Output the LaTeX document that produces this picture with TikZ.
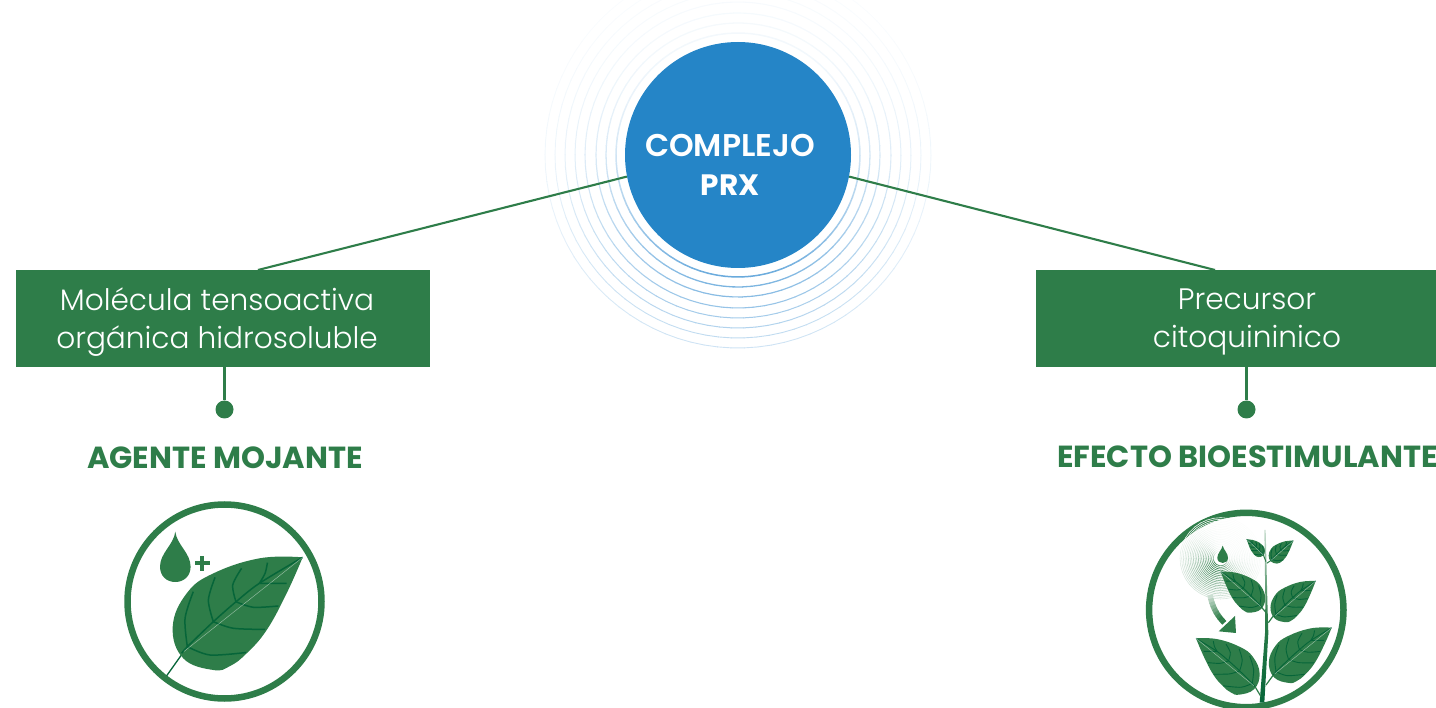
\documentclass[tikz,border=0pt]{standalone}
\usepackage{fontspec}
\setmainfont{Poppins}
\newfontfamily\lightf{Poppins Light}
\newfontfamily\semif{Poppins SemiBold}
\newfontfamily\boldf{Poppins Bold}
\usetikzlibrary{calc}
\definecolor{gr}{HTML}{2E7D49}
\definecolor{vein}{HTML}{066539}
\definecolor{bl}{HTML}{2585C7}
\definecolor{ringc}{HTML}{4F9BD6}
\tikzset{
 boxn/.style={fill=gr,minimum width=#1,minimum height=97pt,inner sep=0pt},
 boxt/.style={text=white,inner sep=0pt,align=center,font=\lightf\fontsize{29.6}{38}\selectfont},
 dotn/.style={circle,fill=gr,minimum size=18pt,inner sep=0pt},
 headn/.style={text=gr,inner sep=0pt,font=\boldf\fontsize{30.5}{34}\selectfont},
 link/.style={draw=gr,line width=2.1pt},
 ringicon/.style={draw=gr,line width=6.5pt},
 leaffill/.style={fill=gr},
 veinl/.style={draw=vein,line width=#1},
 midl/.style={draw=white,opacity=.5,line width=.45pt},
}
\newcommand\leafdraw[6]{%
 \pgfmathsetmacro\ldx{#3-#1}\pgfmathsetmacro\ldy{#2-#4}%
 \pgfmathsetmacro\lvx{#5*(#2-#4)}\pgfmathsetmacro\lvy{-#5*(#3-#1)}%
 \begin{scope}[shift={(#1,#2)},x={(\ldx pt,\ldy pt)},y={(\lvx pt,\lvy pt)}]
 \fill[leaffill] plot[smooth,tension=.7] coordinates {(1,0) (.78,-.167) (.4825,-.278) (.267,-.284) (.0617,-.171) (-.012,.032) (.0935,.212) (.194,.259) (.33,.2615) (.525,.224) (.774,.118) (1,0)} -- cycle;
 \draw[veinl=#6] plot[smooth] coordinates {(1,0) (.676,-.0425) (.483,-.043) (.288,-.033) (.0556,-.011) (0,0)};
 \draw[veinl=#6] plot[smooth] coordinates {(.0556,-.011) (.158,-.164) (.307,-.266)};
 \draw[veinl=#6] plot[smooth] coordinates {(.0556,-.011) (.137,.1225) (.33,.255)};
 \draw[veinl=#6] plot[smooth] coordinates {(.288,-.033) (.35,-.163) (.475,-.251)};
 \draw[veinl=#6] plot[smooth] coordinates {(.288,-.033) (.363,.081) (.52,.215)};
 \draw[veinl=#6] plot[smooth] coordinates {(.483,-.043) (.534,-.141) (.646,-.19)};
 \draw[veinl=#6] plot[smooth] coordinates {(.483,-.043) (.549,.055) (.681,.149)};
 \draw[veinl=#6] plot[smooth] coordinates {(.676,-.0425) (.745,-.07) (.80,-.115)};
 \draw[veinl=#6] (.676,-.0425) -- (.814,.0675);
 \draw[midl] (.02,.0) -- (1,0);
 \end{scope}}
\newcommand\plantleaf[5]{%
 \pgfmathsetmacro\pa{1130+#1/3}\pgfmathsetmacro\pb{500+#2/3}%
 \pgfmathsetmacro\pc{1130+#3/3}\pgfmathsetmacro\pd{500+#4/3}%
 \leafdraw{\pa}{\pb}{\pc}{\pd}{#5}{.9pt}}
\begin{document}
\begin{tikzpicture}[x=1pt,y=-1pt]
\useasboundingbox (0,0) rectangle (1436,708);
% rings
\foreach \rr/\bb/\ww in {122/85/1.5,132/75/1.3,142/68/1.2,153/60/1.1,163/52/1,173/44/1,183/36/.9,193/28/.9}{
 \foreach \ang in {0,4,...,356}{
  \pgfmathsetmacro\pp{\bb*(0.08+0.92*((1+sin(\ang+2))/2)^2)}
  \pgfmathsetmacro\ae{\ang+4.2}
  \draw[ringc!\pp!white,line width=\ww pt] ({738+\rr*cos(\ang)},{155+\rr*sin(\ang)}) -- ({738+\rr*cos(\ae)},{155+\rr*sin(\ae)});
 }}
\node[circle,fill=bl,minimum size=226pt,inner sep=0pt] (prx) at (738,155) {};
\node[text=white,inner sep=0pt,font=\semif\fontsize{31.4}{34}\selectfont] (t1) at (730,145) {COMPLEJO};
\node[text=white,inner sep=0pt,font=\boldf\fontsize{29.5}{34}\selectfont] (t2) at (730,185) {PRX};
% boxes
\node[boxn=414pt] (lb) at (223,318.5) {};
\node[boxn=422pt] (rb) at (1247,318.5) {};
\node[boxt] (lt) at (217,322) {Molécula tensoactiva\\orgánica hidrosoluble};
\node[boxt] (rt) at (1247,322) {Precursor\\citoquininico};
\coordinate (la) at (258,270);
\coordinate (ra) at (1215,270);
\draw[link] (prx.191) -- (la);
\draw[link] (prx.-11.5) -- (ra);
\node[dotn] (ld) at (224.5,409.5) {};
\node[dotn] (rd) at (1246.5,409.5) {};
\coordinate (ls) at (224.5,367);
\coordinate (rs) at (1246.5,367);
\draw[link] (ls) -- (ld);
\draw[link] (rs) -- (rd);
\node[headn] (lh) at (225,457.5) {AGENTE MOJANTE};
\node[headn] (rh) at (1247.5,456.5) {EFECTO BIOESTIMULANTE};
% left icon
\draw[ringicon] (224.5,601.5) circle[radius=97pt];
\fill[gr] (175.3,531.7) .. controls (177,545) and (190.6,553) .. (190.6,566.7) .. controls (190.6,576) and (184,582) .. (175.3,582) .. controls (166.6,582) and (160,576) .. (160,566.7) .. controls (160,553) and (173.6,545) .. (175.3,531.7) -- cycle;
\fill[gr] (194.5,561) rectangle (209.5,565);
\fill[gr] (200,555.5) rectangle (204,570.5);
\draw[vein,line width=1.3pt] (187.3,646.7) -- (166.7,675.7);
\leafdraw{181.67}{653.33}{302.67}{557.33}{1}{1.5pt}
% right icon
\draw[ringicon] (1246.3,610) circle[radius=97.2pt];
\begin{scope}[shift={(1130,500)},x=.33333pt,y=-.33333pt]
 \foreach \rr in {22,27,...,122}{
  \foreach \ang in {0,10,...,350}{
   \pgfmathsetmacro\dd{cos(\ang+5-120)}
   \pgfmathsetmacro\pp{min(100,max(0,(100*(0.02+0.98*((1+\dd)/2)^2))*(1.3-\rr/110))+1)}
   \pgfmathsetmacro\ae{\ang+10.5}
   \draw[gr!\pp!white,line width=.6pt] ({272+\rr*cos(\ang)},{175+\rr*sin(\ang)}) -- ({272+\rr*cos(\ae)},{175+\rr*sin(\ae)});
  }}
 \fill[gr] (278,137) .. controls (281,150) and (294,160) .. (294,173) .. controls (294,183) and (287,189) .. (278,189) .. controls (269,189) and (262,183) .. (262,173) .. controls (262,160) and (275,150) .. (278,137) -- cycle;
 \foreach \ttt in {0,.1,...,.9}{
  \pgfmathsetmacro\te{\ttt+.11}
  \pgfmathsetmacro\pp{25+110*\ttt}
  \pgfmathsetmacro\pq{min(100,\pp)}
  \draw[gr!\pq!white,line width=5.5pt]
   ({(1-\ttt)^2*240+2*(1-\ttt)*\ttt*250+\ttt^2*290},{(1-\ttt)^2*285+2*(1-\ttt)*\ttt*340+\ttt^2*375}) --
   ({(1-\te)^2*240+2*(1-\te)*\te*250+\te^2*290},{(1-\te)^2*285+2*(1-\te)*\te*340+\te^2*375});
 }
 \fill[gr] (315,348) -- (318,399) -- (266,394) -- cycle;
 \shade[top color=gr!25!white,bottom color=vein,middle color=gr] (403,90) -- (407,90) -- (412,300) -- (415,400) -- (403,608) -- (389,608) -- (405,400) -- (406,300) -- cycle;
 \draw[gr,line width=1.2pt] (408,555) -- (430,525);
 \draw[gr,line width=1.2pt] (415,368) -- (432,345);
 \draw[gr,line width=1pt] (410,190) -- (425,180);
 \draw[gr,line width=1pt] (408,185) -- (400,165);
 \draw[gr,line width=1.2pt] (410,340) -- (395,322);
 \draw[gr,line width=1.2pt] (393,590) -- (375,560);
\end{scope}
\plantleaf{430}{525}{605}{383}{1}
\plantleaf{432}{350}{557}{243}{1}
\plantleaf{422}{182}{490}{122}{1}
\plantleaf{400}{165}{350}{118}{-1}
\plantleaf{395}{322}{272}{215}{-1}
\plantleaf{375}{560}{198}{415}{-1}
\end{tikzpicture}
\end{document}
